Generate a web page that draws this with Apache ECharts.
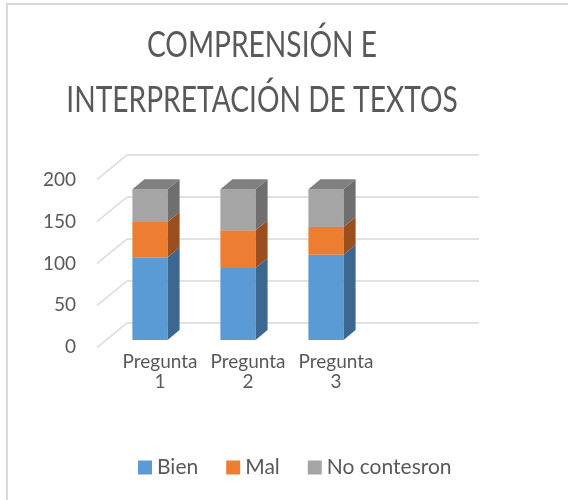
<!DOCTYPE html>
<html>
<head>
<meta charset="utf-8">
<script src="https://cdn.jsdelivr.net/npm/echarts@6/dist/echarts.min.js"></script>
<style>
  html, body { margin: 0; padding: 0; background: #fff; }
  #chart { width: 568px; height: 500px; }
</style>
</head>
<body>
<div id="chart"></div>
<script>
// datos
const categories = ["Pregunta\n1", "Pregunta\n2", "Pregunta\n3", ""];
const bien = [99, 86, 102];
const mal = [42, 45, 33];
const noContesron = [39, 49, 45];
const yTicks = [0, 50, 100, 150, 200];
const titulo = "COMPRENSIÓN E\nINTERPRETACIÓN DE TEXTOS";

const DX = 12, DY = -10; // profundidad de las barras

// colores: frente, lado, arriba
const colBien = ["#5b9bd5", "#3b6791", "#4a80b2"];
const colMal = ["#ed7d31", "#9c4f1e", "#c86528"];
const colNo = ["#a5a5a5", "#6f6f6f", "#808080"];

function segData(lo, vals) {
  return vals.map((v, i) => [i, lo[i], lo[i] + v]);
}
const zeros = bien.map(() => 0);
const base2 = bien.slice();
const base3 = bien.map((v, i) => v + mal[i]);

function barRender(cols, withTop) {
  return function (params, api) {
    const i = api.value(0), lo = api.value(1), hi = api.value(2);
    const pLo = api.coord([i, lo]);
    const pHi = api.coord([i, hi]);
    const w = api.size([1, 0])[0] * 0.4;
    const x0 = pLo[0] - w / 2, x1 = pLo[0] + w / 2;
    const yb = pLo[1], yt = pHi[1];
    const children = [
      { type: "rect", shape: { x: x0, y: yt, width: w, height: yb - yt }, style: { fill: cols[0] } },
      { type: "polygon", shape: { points: [[x1, yb], [x1 + DX, yb + DY], [x1 + DX, yt + DY], [x1, yt]] }, style: { fill: cols[1] } }
    ];
    if (withTop) {
      children.push({ type: "polygon", shape: { points: [[x0, yt], [x1, yt], [x1 + DX, yt + DY], [x0 + DX, yt + DY]] }, style: { fill: cols[2] } });
    }
    return { type: "group", children: children };
  };
}

const txt = "#595959";
const font = "Lato";
const chart = echarts.init(document.getElementById("chart"));

const option = {
  animation: false,
  graphic: [
    { type: "rect", shape: { x: 7, y: 4, width: 700, height: 700 }, style: { fill: "none", stroke: "#d9d9d9", lineWidth: 2 }, z: 100 },
    // titulo (letras altas y estrechas como en el original)
    {
      type: "text", x: 262, y: 17, scaleX: 0.88, scaleY: 1.17,
      style: { text: titulo, fill: txt, fontFamily: font, fontSize: 32, lineHeight: 47, align: "center", verticalAlign: "top" }
    }
  ],
  legend: {
    left: 133,
    top: 452,
    icon: "rect",
    itemWidth: 14,
    itemHeight: 14,
    itemGap: 28,
    textStyle: { fontFamily: font, fontSize: 21, color: txt },
    data: ["Bien", "Mal", "No contesron"]
  },
  grid: [
    { left: 106, top: 172.6, width: 352, height: 167.4 }, // plano de barras
    { left: 127, top: 155, width: 352, height: 168 },     // pared del fondo
    { left: 116, top: 180, width: 352, height: 167 }      // plano frontal (etiquetas)
  ],
  xAxis: [
    { gridIndex: 0, type: "category", data: categories, show: false },
    { gridIndex: 1, type: "value", min: 0, max: 1, show: false },
    {
      gridIndex: 2, type: "category", data: categories,
      axisLine: { show: false }, axisTick: { show: false },
      axisLabel: { margin: 5, fontFamily: font, fontSize: 19, lineHeight: 20, color: txt, interval: 0 }
    }
  ],
  yAxis: [
    { gridIndex: 0, type: "value", min: 0, max: 200, interval: 50, show: false },
    {
      gridIndex: 1, type: "value", min: 0, max: 200, interval: 50,
      axisLine: { show: false }, axisTick: { show: false }, axisLabel: { show: false },
      splitLine: { lineStyle: { color: "#d9d9d9", width: 1.5 } }
    },
    {
      gridIndex: 2, type: "value", min: 0, max: 200, interval: 50,
      axisLine: { show: false }, axisTick: { show: false }, splitLine: { show: false },
      axisLabel: { margin: 40, fontFamily: font, fontSize: 19, color: txt }
    }
  ],
  series: [
    {
      type: "custom", xAxisIndex: 1, yAxisIndex: 1, silent: true,
      data: yTicks.map(v => [0, v]),
      renderItem: function (params, api) {
        const p = api.coord([0, api.value(1)]);
        return { type: "line", shape: { x1: p[0], y1: p[1], x2: p[0] - 30, y2: p[1] + 24.5 }, style: { stroke: "#d9d9d9", lineWidth: 1.5 } };
      }
    },
    { name: "Bien", type: "custom", xAxisIndex: 0, yAxisIndex: 0, itemStyle: { color: colBien[0] }, data: segData(zeros, bien), renderItem: barRender(colBien, false) },
    { name: "Mal", type: "custom", xAxisIndex: 0, yAxisIndex: 0, itemStyle: { color: colMal[0] }, data: segData(base2, mal), renderItem: barRender(colMal, false) },
    { name: "No contesron", type: "custom", xAxisIndex: 0, yAxisIndex: 0, itemStyle: { color: colNo[0] }, data: segData(base3, noContesron), renderItem: barRender(colNo, true) }
  ]
};

chart.setOption(option);
</script>
</body>
</html>
